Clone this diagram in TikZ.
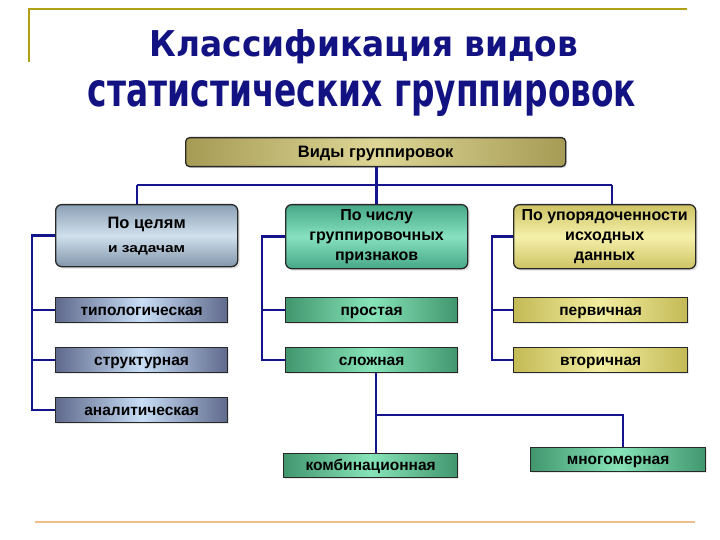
\documentclass[tikz,border=0pt]{standalone}
\usepackage{fontspec}
\setmainfont{Liberation Sans}
\newfontfamily\titlefont{DejaVu Sans}
\usetikzlibrary{shadows}
\definecolor{navy}{RGB}{20,20,140}
\definecolor{titleblue}{RGB}{18,18,130}
\definecolor{gold}{RGB}{175,160,20}
\definecolor{peach}{RGB}{240,190,140}
\definecolor{edge}{RGB}{40,40,40}
\definecolor{topE}{RGB}{165,155,85}
\definecolor{topM}{RGB}{222,214,150}
\definecolor{blT}{RGB}{140,160,182}
\definecolor{blM}{RGB}{208,224,236}
\definecolor{blB}{RGB}{130,150,172}
\definecolor{grE}{RGB}{70,168,135}
\definecolor{grM}{RGB}{135,225,192}
\definecolor{ylE}{RGB}{205,195,100}
\definecolor{ylM}{RGB}{245,240,170}
\definecolor{bleafE}{RGB}{95,105,140}
\definecolor{bleafM}{RGB}{200,222,245}
\definecolor{gleafE}{RGB}{65,150,110}
\definecolor{gleafM}{RGB}{135,228,185}
\definecolor{yleafE}{RGB}{195,185,85}
\definecolor{yleafM}{RGB}{242,238,160}
\tikzset{
  x=1pt,y=-1pt,
  conn/.style={draw=navy,line width=2.4pt},
  base/.style={draw=edge,line width=1.3pt,anchor=north west,inner sep=0pt,
     font=\bfseries,text=black},
  topbox/.style={base,rounded corners=4pt,left color=topE,right color=topE,middle color=topM,
     drop shadow={shadow xshift=1.5pt,shadow yshift=-1.5pt,fill=gray!40}},
  lvl/.style={base,align=center,rounded corners=6pt,drop shadow={shadow xshift=2pt,shadow yshift=-2pt,fill=gray!45},
     font=\bfseries\fontsize{16}{20}\selectfont},
  bluelvl/.style={lvl,top color=blT,bottom color=blB,middle color=blM},
  greenlvl/.style={lvl,top color=grE,bottom color=grE,middle color=grM},
  yellowlvl/.style={lvl,top color=ylE,bottom color=ylE,middle color=ylM},
  leaf/.style={base,line width=1.2pt,drop shadow={shadow xshift=1pt,shadow yshift=-1pt,fill=gray!35},
     font=\bfseries\fontsize{15.5}{16}\selectfont,text height=11pt,text depth=0.5pt},
  blueleaf/.style={leaf,left color=bleafE,right color=bleafE,middle color=bleafM},
  greenleaf/.style={leaf,left color=gleafE,right color=gleafE,middle color=gleafM},
  yellowleaf/.style={leaf,left color=yleafE,right color=yleafE,middle color=yleafM},
}
\begin{document}
\begin{tikzpicture}
\useasboundingbox (0,0) rectangle (720,540);
% decorative frame lines
\draw[gold,line width=1.6pt] (29,62) -- (29,9) -- (687,9);
\draw[peach,line width=1.4pt] (35,522) -- (695,522);
% title
\node[text=titleblue,anchor=base,inner sep=0pt] (t1) at (364,57)
  {\resizebox{428pt}{27pt}{\titlefont\bfseries Классификация видов}};
\node[text=titleblue,anchor=base,inner sep=0pt] (t2) at (362,107)
  {\resizebox{548pt}{26pt}{\titlefont\bfseries статистических группировок}};
% top
\node[topbox,minimum width=380pt,minimum height=29pt,font=\bfseries\fontsize{16.5}{17}\selectfont,text height=12pt,text depth=2pt] (top) at (185,137) {Виды группировок};
% level 2
\node[bluelvl,minimum width=182pt,minimum height=62pt] (L) at (55,204)
  {{\fontsize{16.5}{17}\selectfont По целям}\\[4pt]\resizebox{77pt}{7pt}{и задачам}};
\node[greenlvl,minimum width=182pt,minimum height=64pt] (M) at (285,204)
  {По числу\\группировочных\\признаков};
\node[yellowlvl,minimum width=182pt,minimum height=64pt] (R) at (513,204)
  {По упорядоченности\\исходных\\данных};
% leaves
\node[blueleaf,minimum width=172pt,minimum height=25pt] (A1) at (55,297) {типологическая};
\node[blueleaf,minimum width=172pt,minimum height=25pt] (A2) at (55,347) {структурная};
\node[blueleaf,minimum width=172pt,minimum height=25pt] (A3) at (55,397) {аналитическая};
\node[greenleaf,minimum width=172pt,minimum height=25pt] (B1) at (285,297) {простая};
\node[greenleaf,minimum width=172pt,minimum height=25pt] (B2) at (285,347) {сложная};
\node[yellowleaf,minimum width=174pt,minimum height=25pt] (C1) at (513,297) {первичная};
\node[yellowleaf,minimum width=174pt,minimum height=25pt] (C2) at (513,347) {вторичная};
\node[greenleaf,minimum width=174pt,minimum height=24pt] (D1) at (283,453) {комбинационная};
\node[greenleaf,minimum width=175pt,minimum height=24pt] (D2) at (530,447) {многомерная};
% connectors
\coordinate (busL) at (137,185);
\coordinate (busR) at (612,185);
\coordinate (j) at (376,415);
\coordinate (k) at (623,415);
\draw[conn] (busL) -- (busR);
\draw[conn] (top.south -| M.north) -- (M.north);
\draw[conn] (busL) -- (busL |- L.north);
\draw[conn] (busR) -- (busR |- R.north);
\draw[conn] (L.west) -- ++(-23,0) |- (A3.west);
\draw[conn] (A1.west) -- ++(-23,0);
\draw[conn] (A2.west) -- ++(-23,0);
\draw[conn] (M.west) -- ++(-23,0) |- (B2.west);
\draw[conn] (B1.west) -- ++(-23,0);
\draw[conn] (R.west) -- ++(-21,0) |- (C2.west);
\draw[conn] (C1.west) -- ++(-21,0);
\draw[conn] (j |- B2.south) -- (j |- D1.north);
\draw[conn] (j) -- (k) -- (k |- D2.north);
\end{tikzpicture}
\end{document}
